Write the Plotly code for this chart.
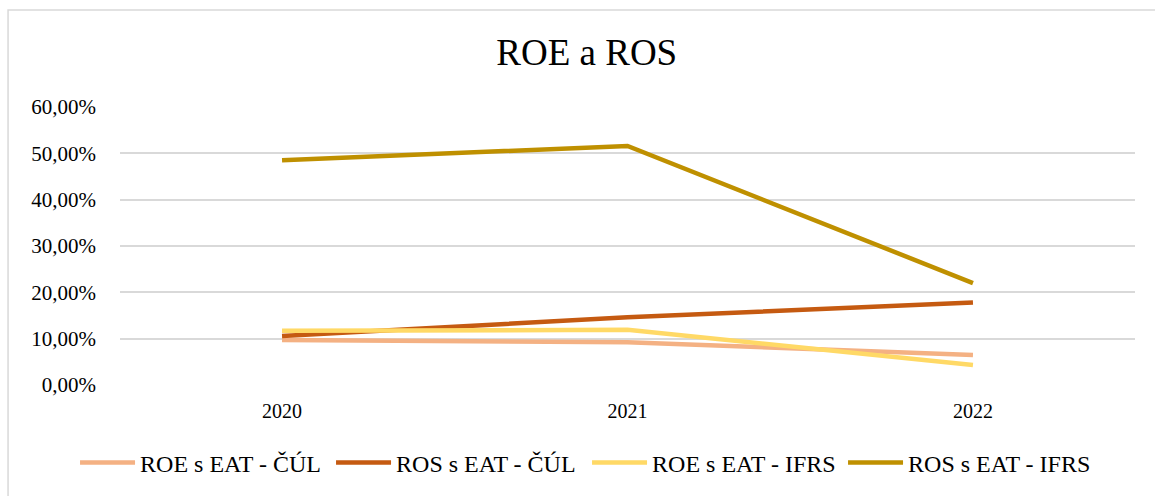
import plotly.graph_objects as go

years = ["2020", "2021", "2022"]
roe_cul = [0.097, 0.092, 0.065]
ros_cul = [0.106, 0.146, 0.178]
roe_ifrs = [0.117, 0.119, 0.043]
ros_ifrs = [0.485, 0.516, 0.220]

series = [
    ("ROE s EAT - ČÚL", roe_cul, "#F4B183"),
    ("ROS s EAT - ČÚL", ros_cul, "#C55A11"),
    ("ROE s EAT - IFRS", roe_ifrs, "#FFD966"),
    ("ROS s EAT - IFRS", ros_ifrs, "#BF9000"),
]

fig = go.Figure()
for name, vals, color in series:
    fig.add_trace(go.Scatter(
        x=years, y=vals, name=name, mode="lines",
        line=dict(color=color, width=4.5),
    ))

font_family = "Liberation Serif"

fig.update_layout(
    width=1155, height=496,
    margin=dict(l=120, r=20, t=107, b=111, autoexpand=False),
    paper_bgcolor="white", plot_bgcolor="white",
    separators=", ",
    font=dict(family=font_family, color="#000000", size=20),
    title=dict(text="ROE a ROS", x=0.508, xref="container", xanchor="center",
               y=1 - 52 / 496, yref="container", yanchor="middle",
               font=dict(family=font_family, size=37, color="#000000")),
    xaxis=dict(type="category", range=[-0.469, 2.469], showgrid=False,
               showline=False, zeroline=False, ticks="",
               tickfont=dict(size=20, family=font_family),
               ticklabelstandoff=12),
    yaxis=dict(range=[0, 0.6], dtick=0.1, tickformat=".2%",
               showgrid=True, gridcolor="#D9D9D9", gridwidth=1.5,
               zeroline=False, showline=False, ticks="",
               tickfont=dict(size=21, family=font_family),
               ticklabelstandoff=23),
    legend=dict(orientation="h", xref="paper", x=-0.0443, xanchor="left",
                yref="paper", y=-0.2806, yanchor="middle",
                font=dict(size=24, family=font_family),
                itemwidth=55, entrywidth=186, entrywidthmode="pixels",
                bgcolor="rgba(0,0,0,0)"),
    showlegend=True,
    shapes=[dict(type="rect", xref="paper", yref="paper",
                 x0=-0.1103, x1=1.05, y0=-0.6, y1=1.349,
                 line=dict(color="#D9D9D9", width=1.5), fillcolor="rgba(0,0,0,0)",
                 layer="below")],
)

fig.write_html("out.html", config={"displayModeBar": False},
               post_script="document.body.style.margin='0';document.body.style.padding='0';")
